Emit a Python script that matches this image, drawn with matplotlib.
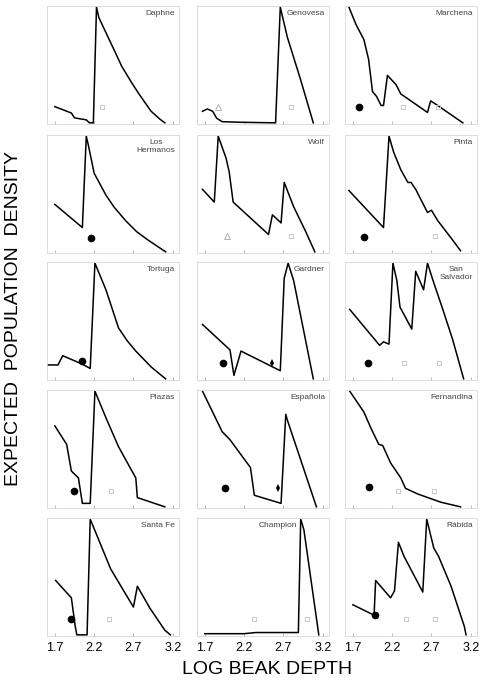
import matplotlib
matplotlib.use("Agg")
import matplotlib.pyplot as plt

plt.rcParams["font.family"] = ["Liberation Sans", "DejaVu Sans"]

# --- dados (log beak depth x densidade relativa) ---
daphne_x = [1.70, 1.91, 1.95, 2.10, 2.14, 2.19, 2.23, 2.26, 2.35, 2.475, 2.55, 2.675,
            2.76, 2.925, 3.04, 3.10]
daphne_y = [0.14, 0.085, 0.043, 0.026, 0.0, 0.0, 1.0, 0.91, 0.78, 0.60, 0.49, 0.35,
            0.26, 0.10, 0.03, 0.0]

genovesa_x = [1.67, 1.73, 1.80, 1.85, 1.92, 2.15, 2.60, 2.66, 2.75, 2.92, 3.08]
genovesa_y = [0.10, 0.12, 0.10, 0.04, 0.01, 0.005, 0.0, 1.0, 0.74, 0.37, 0.0]

marchena_x = [1.65, 1.74, 1.84, 1.90, 1.95, 2.00, 2.06, 2.09, 2.14, 2.25, 2.31,
              2.65, 2.69, 2.78, 3.10]
marchena_y = [1.0, 0.85, 0.72, 0.55, 0.27, 0.23, 0.15, 0.15, 0.41, 0.33, 0.25,
              0.09, 0.19, 0.15, 0.0]

hermanos_x = [1.70, 2.05, 2.10, 2.13, 2.20, 2.35, 2.45, 2.60, 2.74, 2.89, 3.11]
hermanos_y = [0.41, 0.21, 1.0, 0.91, 0.68, 0.49, 0.39, 0.27, 0.175, 0.10, 0.0]

wolf_x = [1.67, 1.82, 1.87, 1.97, 2.01, 2.06, 2.51, 2.56, 2.67, 2.71, 2.83, 2.98, 3.10]
wolf_y = [0.54, 0.43, 1.0, 0.81, 0.69, 0.43, 0.15, 0.32, 0.25, 0.60, 0.39, 0.18, 0.0]

pinta_x = [1.65, 2.09, 2.16, 2.22, 2.31, 2.40, 2.44, 2.50, 2.65, 2.70, 2.78, 2.95, 3.07]
pinta_y = [0.53, 0.21, 1.0, 0.86, 0.71, 0.60, 0.60, 0.54, 0.34, 0.36, 0.27, 0.12, 0.01]

tortuga_x = [1.60, 1.74, 1.80, 2.04, 2.15, 2.21, 2.35, 2.51, 2.62, 2.73, 2.93, 3.11]
tortuga_y = [0.12, 0.12, 0.20, 0.13, 0.09, 1.0, 0.77, 0.44, 0.33, 0.24, 0.10, 0.0]

gardner_x = [1.67, 2.02, 2.07, 2.16, 2.66, 2.71, 2.76, 2.83, 3.08]
gardner_y = [0.47, 0.25, 0.03, 0.24, 0.07, 0.87, 1.0, 0.85, 0.0]

salvador_x = [1.66, 2.04, 2.09, 2.16, 2.21, 2.26, 2.30, 2.45, 2.50, 2.60, 2.65,
              2.72, 2.84, 2.97, 3.11]
salvador_y = [0.60, 0.29, 0.32, 0.30, 1.0, 0.85, 0.62, 0.43, 0.93, 0.77, 1.0,
              0.85, 0.61, 0.34, 0.0]

plazas_x = [1.70, 1.85, 1.91, 2.00, 2.05, 2.15, 2.21, 2.35, 2.51, 2.73, 2.75, 3.10]
plazas_y = [0.70, 0.54, 0.31, 0.25, 0.03, 0.03, 1.0, 0.77, 0.52, 0.25, 0.08, 0.0]

espanola_x = [1.67, 1.92, 2.02, 2.28, 2.33, 2.67, 2.73, 2.75, 3.12]
espanola_y = [1.0, 0.65, 0.58, 0.34, 0.10, 0.03, 0.80, 0.75, 0.0]

fernandina_x = [1.66, 1.84, 1.93, 2.03, 2.08, 2.18, 2.31, 2.37, 2.53, 2.82, 3.07]
fernandina_y = [1.0, 0.82, 0.68, 0.54, 0.53, 0.38, 0.25, 0.16, 0.11, 0.04, 0.0]

santafe_x = [1.71, 1.91, 1.96, 1.98, 2.11, 2.15, 2.41, 2.70, 2.75, 2.91, 3.10, 3.17]
santafe_y = [0.47, 0.32, 0.07, 0.0, 0.0, 1.0, 0.57, 0.24, 0.42, 0.23, 0.04, 0.0]

champion_x = [1.70, 2.20, 2.35, 2.89, 2.92, 2.96, 3.15]
champion_y = [0.01, 0.01, 0.02, 0.02, 1.0, 0.91, 0.0]

rabida_x = [1.70, 1.97, 1.99, 2.18, 2.23, 2.28, 2.35, 2.59, 2.64, 2.73, 2.79,
            2.95, 3.12, 3.14]
rabida_y = [0.26, 0.17, 0.47, 0.32, 0.38, 0.80, 0.68, 0.37, 1.0, 0.75, 0.68,
            0.42, 0.07, 0.0]

names = ["Daphne", "Genovesa", "Marchena",
         "Los\nHermanos", "Wolf", "Pinta",
         "Tortuga", "Gardner", "San\nSalvador",
         "Plazas", "Española", "Fernandina",
         "Santa Fe", "Champion", "Rábida"]

curves = [(daphne_x, daphne_y), (genovesa_x, genovesa_y), (marchena_x, marchena_y),
          (hermanos_x, hermanos_y), (wolf_x, wolf_y), (pinta_x, pinta_y),
          (tortuga_x, tortuga_y), (gardner_x, gardner_y), (salvador_x, salvador_y),
          (plazas_x, plazas_y), (espanola_x, espanola_y), (fernandina_x, fernandina_y),
          (santafe_x, santafe_y), (champion_x, champion_y), (rabida_x, rabida_y)]

# marcadores: ponto preto, losango, quadrados/triângulos claros
dots = {"Marchena": (1.78, 0.14), "Los\nHermanos": (2.16, 0.12), "Pinta": (1.84, 0.13),
        "Tortuga": (2.04, 0.15), "Gardner": (1.93, 0.14), "San\nSalvador": (1.89, 0.14),
        "Plazas": (1.94, 0.14), "Española": (1.96, 0.16), "Fernandina": (1.90, 0.17),
        "Santa Fe": (1.90, 0.14), "Rábida": (1.98, 0.17)}
diamonds = {"Gardner": (2.55, 0.14), "Española": (2.63, 0.16)}
squares = {"Daphne": [2.30], "Genovesa": [2.79], "Marchena": [2.34, 2.78],
           "Wolf": [2.79], "Pinta": [2.75], "San\nSalvador": [2.35, 2.79],
           "Plazas": [2.42], "Fernandina": [2.27, 2.73], "Santa Fe": [2.39],
           "Champion": [2.32, 3.00], "Rábida": [2.37, 2.75]}
triangles = {"Genovesa": [1.87], "Wolf": [1.98]}

ticks = [1.7, 2.2, 2.7, 3.2]

W, H = 482, 685
fig = plt.figure(figsize=(W / 100, H / 100), dpi=100)

lefts = [47, 197, 345]
tops = [6, 135, 262, 390, 518]
aw, ah = 132, 118

for i, (name, (xs, ys)) in enumerate(zip(names, curves)):
    r, c = divmod(i, 3)
    ax = fig.add_axes([lefts[c] / W, 1 - (tops[r] + ah) / H, aw / W, ah / H])
    ax.plot(xs, ys, color="black", lw=1.1)

    if name in dots:
        ax.plot(*dots[name], "o", color="black", ms=4.5)
    if name in diamonds:
        ax.plot(*diamonds[name], "d", color="black", ms=4, mew=0)
    for sx in squares.get(name, []):
        ax.plot(sx, 0.14, "s", mfc="none", mec="#c8c8c8", ms=3.5, mew=0.7)
    for tx in triangles.get(name, []):
        ax.plot(tx, 0.14, "^", mfc="none", mec="#b0b0b0", ms=4, mew=0.7)

    lx = 0.76 if name == "Champion" else 0.97
    ax.text(lx, 0.97, name, transform=ax.transAxes, ha="right", va="top",
            fontsize=6, color="#444444", multialignment="center")

    ax.set_xlim(1.6, 3.28)
    ax.set_ylim(-0.01, 1.01)
    ax.set_xticks(ticks)
    ax.set_yticks([])
    ax.tick_params(axis="x", direction="in", length=2, color="#bbbbbb",
                   labelsize=9, pad=4)
    if r < 4:
        ax.set_xticklabels([])
    for s in ax.spines.values():
        s.set_color("#d8d8d8")
        s.set_linewidth(0.6)

fig.text(0.555, 0.022, "LOG BEAK DEPTH", ha="center", va="center", fontsize=14)
fig.text(0.027, 0.535, "EXPECTED  POPULATION  DENSITY", ha="center", va="center",
         rotation=90, fontsize=14)

fig.savefig("out.png", dpi=100)
